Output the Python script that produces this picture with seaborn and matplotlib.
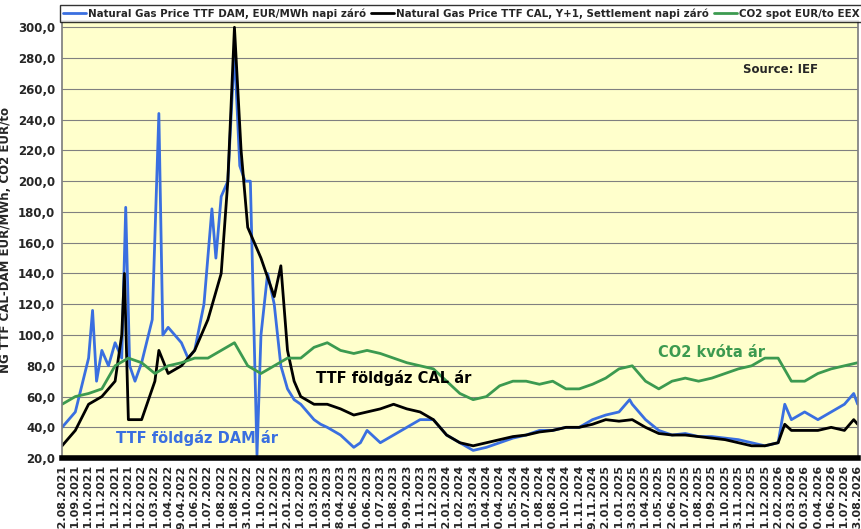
import matplotlib
matplotlib.use("Agg")
import matplotlib.pyplot as plt
import matplotlib.ticker as mticker
import numpy as np
import pandas as pd
import seaborn as sns

tick_labels = [
	"02.08.2021", "01.09.2021", "01.10.2021", "01.11.2021", "01.12.2021", "31.12.2021",
	"01.02.2022", "01.03.2022", "01.04.2022", "29.04.2022", "01.06.2022", "01.07.2022",
	"01.08.2022", "31.08.2022", "03.10.2022", "31.10.2022", "01.12.2022", "02.01.2023",
	"01.02.2023", "01.03.2023", "31.03.2023", "28.04.2023", "01.06.2023", "30.06.2023",
	"31.07.2023", "31.08.2023", "29.09.2023", "01.11.2023", "01.12.2023", "02.01.2024",
	"01.02.2024", "01.03.2024", "01.04.2024", "30.04.2024", "31.05.2024", "01.07.2024",
	"01.08.2024", "30.08.2024", "01.10.2024", "01.11.2024", "29.11.2024", "02.01.2025",
	"31.01.2025", "03.03.2025", "01.04.2025", "01.05.2025", "02.06.2025", "01.07.2025",
	"01.08.2025", "01.09.2025", "01.10.2025", "03.11.2025", "01.12.2025", "31.12.2025",
	"02.02.2026", "02.03.2026", "30.03.2026", "30.04.2026", "01.06.2026", "01.07.2026",
	"03.08.2026",
]

# positions in tick-index units
dam_x = [0, 1, 2, 2.3, 2.6, 3, 3.5, 4, 4.5, 4.8, 5.1, 5.5, 6, 6.8, 7.3, 7.6, 8, 9, 9.5, 10,
	10.7, 11.3, 11.6, 12, 12.5, 13, 13.4, 13.8, 14.2, 14.7, 15, 15.5, 16, 16.5, 17, 17.5, 18,
	19, 19.5, 20, 21, 22, 22.5, 23, 24, 25, 26, 27, 28, 29, 30, 31, 32, 33, 34, 35, 36, 37, 38,
	39, 40, 41, 42, 42.8, 43, 44, 45, 46, 47, 48, 49, 50, 51, 52, 53, 54, 54.5, 55, 56, 57, 58,
	59, 59.7, 60]
dam_y = [40, 50, 85, 116, 70, 90, 80, 95, 85, 183, 80, 70, 82, 110, 244, 100, 105, 95, 85, 90,
	120, 182, 150, 190, 200, 285, 210, 200, 200, 22, 100, 140, 120, 80, 65, 58, 55,
	45, 42, 40, 35, 27, 30, 38, 30, 35, 40, 45, 45, 35, 30, 25, 27, 30, 33, 35, 38, 38, 40,
	40, 45, 48, 50, 58, 55, 45, 38, 35, 36, 34, 34, 33, 32, 30, 28, 30, 55, 45, 50, 45, 50,
	55, 62, 55]

cal_x = [0, 1, 2, 3, 4, 4.5, 4.7, 5, 6, 7, 7.3, 8, 9, 10, 11, 12, 12.5, 13, 13.5, 14, 15, 16,
	16.5, 17, 17.5, 18, 19, 20, 21, 22, 23, 24, 25, 26, 27, 28, 29, 30, 31, 32, 33, 34, 35, 36,
	37, 38, 39, 40, 41, 42, 43, 44, 45, 46, 47, 48, 49, 50, 51, 52, 53, 54, 54.5, 55, 56, 57,
	58, 59, 59.7, 60]
cal_y = [28, 38, 55, 60, 70, 100, 140, 45, 45, 70, 90, 75, 80, 90, 110, 140, 200, 300, 220,
	170, 150, 125, 145, 90, 70, 60, 55, 55, 52, 48, 50, 52, 55, 52, 50, 45, 35, 30, 28, 30, 32,
	34, 35, 37, 38, 40, 40, 42, 45, 44, 45, 40, 36, 35, 35, 34, 33, 32, 30, 28, 28, 30, 42, 38,
	38, 38, 40, 38, 45, 42]

co2_x = list(range(61))
co2_y = [55, 60, 62, 65, 80, 85, 82, 75, 80, 82, 85, 85, 90, 95, 80, 75, 80, 85, 85, 92, 95,
	90, 88, 90, 88, 85, 82, 80, 78, 70, 62, 58, 60, 67, 70, 70, 68, 70, 65, 65, 68, 72, 78, 80,
	70, 65, 70, 72, 70, 72, 75, 78, 80, 85, 85, 70, 70, 75, 78, 80, 82]

sns.set_theme(style="white")
plt.rcParams["font.family"] = ["DejaVu Sans"]

fig = plt.figure(figsize=(8.62, 5.29), dpi=100)
ax = fig.add_axes([0.072, 0.134, 0.923, 0.826])
ax.set_facecolor("#FFFFCC")

sns.lineplot(x=dam_x, y=dam_y, ax=ax, color="#3A6FE0", lw=2,
	label="Natural Gas Price TTF DAM, EUR/MWh napi záró")
sns.lineplot(x=cal_x, y=cal_y, ax=ax, color="black", lw=2,
	label="Natural Gas Price TTF CAL, Y+1, Settlement napi záró")
sns.lineplot(x=co2_x, y=co2_y, ax=ax, color="#3C9A50", lw=2,
	label="CO2 spot EUR/to EEX")

ax.set_xlim(0, 60)
ax.set_ylim(20, 304)
ax.set_yticks(np.arange(20, 301, 20))
ax.yaxis.set_major_formatter(mticker.FuncFormatter(lambda v, p: f"{v:.1f}".replace(".", ",")))
ax.set_xticks(range(len(tick_labels)))
ax.set_xticklabels(tick_labels, rotation=90, fontsize=8, fontweight="bold")
for t in ax.get_yticklabels():
	t.set_fontweight("bold")
	t.set_fontsize(8.5)
ax.tick_params(axis="both", length=3, pad=2)
ax.grid(axis="y", color="#808080", lw=0.8)
for s in ["left", "right", "top"]:
	ax.spines[s].set_color("#808080")
ax.spines["bottom"].set_color("black")
ax.spines["bottom"].set_linewidth(4)

ax.set_ylabel("NG TTF CAL-DAM EUR/MWh, CO2 EUR/to", fontsize=8.5, fontweight="bold")
ax.set_xlabel("")

ax.text(54.2, 270, "Source: IEF", fontsize=8.5, fontweight="bold", ha="center")
ax.text(49, 86, "CO2 kvóta ár", color="#3C9A50", fontsize=10.5, fontweight="bold", ha="center")
ax.text(25, 69, "TTF földgáz CAL ár", color="black", fontsize=10.5, fontweight="bold", ha="center")
ax.text(10.2, 30, "TTF földgáz DAM ár", color="#3A6FE0", fontsize=10.5, fontweight="bold", ha="center")

leg = fig.legend(loc="upper left", bbox_to_anchor=(0.064, 1.0), ncol=3,
	frameon=True, fancybox=False, edgecolor="black", handlelength=2.2, columnspacing=0.5,
	handletextpad=0.2, borderpad=0.3, prop={"weight": "bold", "size": 7.4})
leg.get_frame().set_linewidth(1)
ax.get_legend().remove()

fig.savefig("out.png", dpi=100)
